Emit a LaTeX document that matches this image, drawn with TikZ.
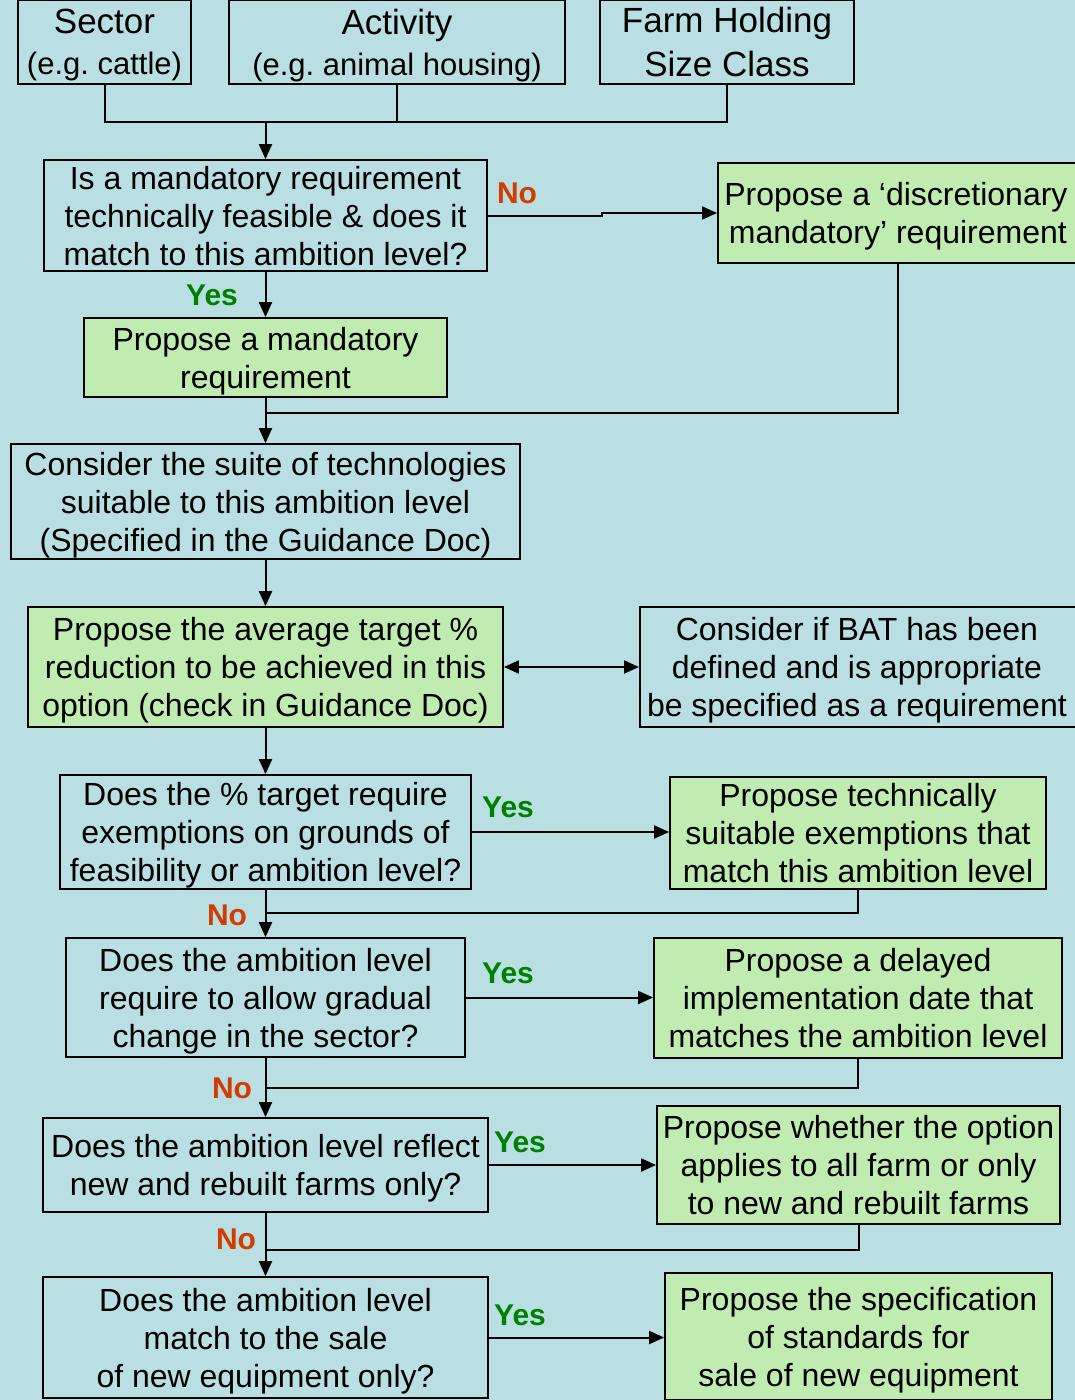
\documentclass[tikz,border=0pt]{standalone}
\usepackage{fontspec}
\setmainfont{Liberation Sans}
\frenchspacing
\usetikzlibrary{arrows.meta}
\definecolor{bgc}{HTML}{B9DFE3}
\definecolor{boxg}{HTML}{C0ECB1}
\definecolor{nored}{HTML}{D33C00}
\definecolor{yesgreen}{HTML}{008000}
\begin{document}
\begin{tikzpicture}[x=1pt,y=-1pt,
  box/.style={draw=black,line width=1.8pt,inner sep=0pt,align=center,font=\fontsize{32}{38}\selectfont,text depth=-6pt},
  gbox/.style={box,fill=boxg},
  conn/.style={line width=2pt,line cap=rect},
  arr/.style={conn,-{Triangle[length=15pt,width=13pt]}},
  darr/.style={conn,{Triangle[length=15pt,width=13pt]}-{Triangle[length=15pt,width=13pt]}},
  nolab/.style={text=nored,font=\fontsize{30}{36}\selectfont\bfseries},
  yeslab/.style={text=yesgreen,font=\fontsize{30}{36}\selectfont\bfseries}]
\useasboundingbox (0,0) rectangle (1075,1400);
\fill[bgc] (0,0) rectangle (1075,1400);
% top row
\node[box,font=\fontsize{31}{41}\selectfont,text depth=-10pt,minimum width=173pt,minimum height=84pt] (sec) at (104.5,42) {{\fontsize{35}{41}\selectfont Sector}\\(e.g. cattle)};
\node[box,font=\fontsize{31}{41}\selectfont,text depth=-10pt,minimum width=336pt,minimum height=84pt] (act) at (397,42) {{\fontsize{35}{41}\selectfont Activity}\\(e.g. animal housing)};
\node[box,font=\fontsize{35}{44}\selectfont,text depth=-9pt,minimum width=254pt,minimum height=84pt] (farm) at (727,42) {Farm Holding\\Size Class};
% main column
\node[box,minimum width=443pt,minimum height=111pt] (q1) at (265.5,215.5) {Is a mandatory requirement\\technically feasible \& does it\\match to this ambition level?};
\node[gbox,minimum width=360pt,minimum height=100pt,anchor=west] (p1) at (717,213) {\hspace*{-4pt}Propose a ‘discretionary\\mandatory’ requirement};
\node[gbox,minimum width=363pt,minimum height=79pt] (p2) at (265.5,357.5) {Propose a mandatory\\requirement};
\node[box,minimum width=509pt,minimum height=115pt] (c1) at (265.5,501.5) {Consider the suite of technologies\\suitable to this ambition level\\(Specified in the Guidance Doc)};
\node[gbox,minimum width=475pt,minimum height=120pt] (p3) at (265.5,667) {Propose the average target \%\\reduction to be achieved in this\\option (check in Guidance Doc)};
\node[box,minimum width=440pt,minimum height=120pt,anchor=west] (bat) at (639,667) {\hspace*{-6pt}Consider if BAT has been\\\hspace*{-6pt}defined and is appropriate\\\hspace*{-6pt}be specified as a requirement};
\node[box,minimum width=411pt,minimum height=114pt] (q2) at (265.5,832) {Does the \% target require\\exemptions on grounds of\\feasibility or ambition level?};
\node[gbox,minimum width=376pt,minimum height=112pt] (r2) at (858,833) {Propose technically\\suitable exemptions that\\match this ambition level};
\node[box,minimum width=399pt,minimum height=119pt] (q3) at (265.5,997.5) {Does the ambition level\\require to allow gradual\\change in the sector?};
\node[gbox,minimum width=408pt,minimum height=120pt] (r3) at (858,998) {Propose a delayed\\implementation date that\\matches the ambition level};
\node[box,minimum width=445pt,minimum height=94pt] (q4) at (265.5,1165) {Does the ambition level reflect\\new and rebuilt farms only?};
\node[gbox,minimum width=403pt,minimum height=118pt] (r4) at (858.5,1165) {Propose whether the option\\applies to all farm or only\\to new and rebuilt farms};
\node[box,minimum width=445pt,minimum height=121pt] (q5) at (265.5,1337.5) {Does the ambition level\\match to the sale\\of new equipment only?};
\node[gbox,minimum width=387pt,minimum height=127pt] (r5) at (858.5,1336.5) {Propose the specification\\of standards for\\sale of new equipment};
% top merge
\coordinate (mj) at (265.5,122);
\draw[conn] (sec.south) |- (farm.south |- mj) -- (farm.south);
\draw[conn] (act.south) -- (act.south |- mj);
\draw[arr] (mj) -- (q1.north);
% Q1 branches
\coordinate (jog) at (602,216);
\draw[arr] (q1.east |- jog) -- (jog) -- (602,213) -- (p1.west);
\node[nolab] (no1) at (517,193) {No};
\draw[arr] (q1.south) -- (p2.north);
\node[yeslab] (yes1) at (212,295) {Yes};
\coordinate (m2) at (265.5,413);
\draw[conn] (p1.south -| 898,0) |- (m2);
\draw[arr] (p2.south) -- (c1.north);
\draw[arr] (c1.south) -- (p3.north);
\draw[darr] (p3.east) -- (bat.west);
\draw[arr] (p3.south) -- (q2.north);
% Q2
\draw[arr] (q2.east) -- (q2.east -| r2.west);
\node[yeslab] (yes2) at (508,807) {Yes};
\node[nolab] (no2) at (227,915) {No};
\draw[arr] (q2.south) -- (q3.north);
\coordinate (m3) at (265.5,913);
\draw[conn] (r2.south) |- (m3);
% Q3
\draw[arr] (q3.east) -- (q3.east -| r3.west);
\node[yeslab] (yes3) at (508,973) {Yes};
\node[nolab] (no3) at (232,1088) {No};
\draw[arr] (q3.south) -- (q4.north);
\coordinate (m4) at (265.5,1088);
\draw[conn] (r3.south) |- (m4);
% Q4
\draw[arr] (q4.east) -- (r4.west);
\node[yeslab] (yes4) at (520,1142) {Yes};
\node[nolab] (no4) at (236,1239) {No};
\draw[arr] (q4.south) -- (q5.north);
\coordinate (m5) at (265.5,1250);
\draw[conn] (r4.south) |- (m5);
% Q5
\draw[arr] (q5.east) -- (q5.east -| r5.west);
\node[yeslab] (yes5) at (520,1315) {Yes};
\end{tikzpicture}
\end{document}
